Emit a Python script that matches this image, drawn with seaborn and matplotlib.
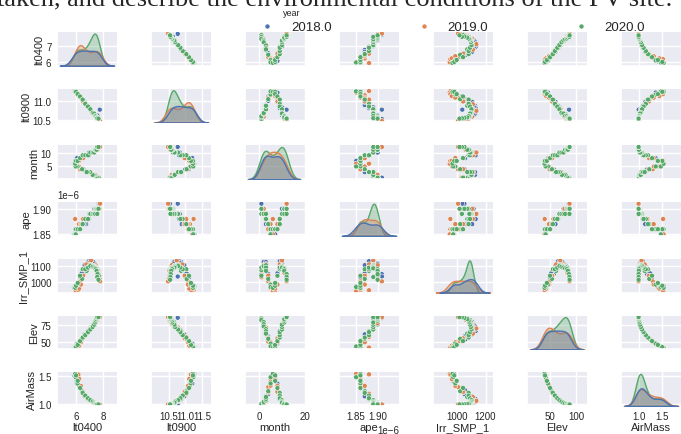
import numpy as np
import pandas as pd
import seaborn as sns
import matplotlib.pyplot as plt

# ---- measurements, one list per variable and year ----
month_2018 = [1, 1, 2, 2, 3, 3, 4, 4, 5, 6, 6, 7, 8, 8, 9, 9, 10, 10, 11, 12]
lt0400_2018 = [7.66, 7.60, 7.44, 7.26, 6.88, 6.74, 6.54, 6.32, 6.06, 5.87, 5.93, 5.96,
               6.08, 6.42, 6.63, 6.94, 6.97, 7.34, 7.56, 7.73]
lt0900_2018 = [10.53, 10.52, 10.61, 10.66, 10.87, 10.89, 11.00, 11.11, 11.19, 11.26, 11.27,
               11.23, 11.21, 11.04, 10.97, 10.81, 10.83, 10.63, 10.62, 10.77]
ape_2018 = [1.91, 1.90, 1.90, 1.89, 1.88, 1.87, 1.87, 1.86, 1.86, 1.85, 1.85, 1.85,
            1.86, 1.87, 1.87, 1.88, 1.89, 1.90, 1.90, 1.91]
irr_2018 = [1050, 1075, 1105, 1125, 1125, 1080, 1050, 1030, 970, 968, 975, 973,
            985, 1055, 1105, 1130, 1120, 1115, 1080, 1035]
elev_2018 = [85.7, 82.3, 80.0, 73.4, 66.2, 61.0, 57.9, 51.0, 45.2, 41.5, 40.6, 42.5,
             47.1, 53.2, 61.0, 66.1, 68.8, 76.2, 82.6, 86.4]
airmass_2018 = [1.003, 1.009, 1.015, 1.044, 1.091, 1.143, 1.181, 1.287, 1.410, 1.509, 1.537,
                1.480, 1.366, 1.248, 1.143, 1.092, 1.073, 1.031, 1.009, 1.002]

month_2019 = [1, 1, 2, 3, 3, 4, 4, 5, 5, 6, 6, 7, 7, 8, 8, 9, 9, 10, 10, 11, 12, 12]
lt0400_2019 = [7.68, 7.62, 7.42, 7.07, 6.84, 6.43, 6.30, 6.22, 6.12, 5.94, 6.00, 6.18,
               6.23, 6.36, 6.52, 6.52, 6.76, 7.10, 7.32, 7.57, 7.72, 7.75]
lt0900_2019 = [10.53, 10.52, 10.59, 10.78, 10.85, 11.05, 11.08, 11.14, 11.19, 11.25, 11.21,
               11.17, 11.12, 11.08, 10.98, 11.03, 10.91, 10.74, 10.68, 10.54, 10.50, 10.48]
ape_2019 = [1.90, 1.90, 1.90, 1.89, 1.88, 1.87, 1.86, 1.87, 1.86, 1.88, 1.85, 1.86,
            1.86, 1.87, 1.87, 1.88, 1.88, 1.89, 1.89, 1.90, 1.90, 1.91]
irr_2019 = [1030, 1070, 1105, 1112, 1092, 1040, 1005, 985, 962, 950, 945, 950,
            960, 985, 1040, 1080, 1110, 1135, 1100, 1058, 1020, 1005]
elev_2019 = [86.8, 84.2, 77.9, 71.5, 63.4, 55.5, 50.0, 48.8, 43.7, 40.9, 40.6, 41.0,
             43.7, 49.0, 54.9, 57.2, 62.2, 70.0, 77.2, 83.4, 86.8, 87.3]
airmass_2019 = [1.001, 1.005, 1.023, 1.055, 1.118, 1.213, 1.305, 1.329, 1.447, 1.527, 1.537,
                1.524, 1.447, 1.325, 1.222, 1.189, 1.131, 1.064, 1.026, 1.007, 1.001, 1.000]

month_2020 = [1, 1, 1, 2, 2, 2, 3, 3, 3, 4, 5, 5, 6, 7, 7, 8, 9, 9, 9, 10, 10, 10,
              11, 11, 11, 12, 12, 12]
lt0400_2020 = [7.65, 7.53, 7.42, 7.35, 7.28, 7.21, 7.02, 6.86, 6.78, 6.45, 6.12, 5.98,
               5.95, 6.01, 6.13, 6.30, 6.49, 6.68, 6.88, 7.05, 7.22, 7.33, 7.40, 7.44,
               7.50, 7.57, 7.55, 7.64]
lt0900_2020 = [10.53, 10.57, 10.60, 10.66, 10.68, 10.68, 10.78, 10.87, 10.87, 11.04, 11.16,
               11.24, 11.23, 11.23, 11.17, 11.11, 11.03, 10.92, 10.85, 10.78, 10.69, 10.67,
               10.61, 10.60, 10.57, 10.56, 10.55, 10.54]
ape_2020 = [1.90, 1.90, 1.89, 1.89, 1.89, 1.89, 1.89, 1.88, 1.88, 1.87, 1.86, 1.85,
            1.86, 1.86, 1.86, 1.86, 1.87, 1.88, 1.88, 1.89, 1.89, 1.89, 1.89, 1.90,
            1.90, 1.90, 1.89, 1.90]
irr_2020 = [1040, 1075, 1090, 1095, 1095, 1100, 1105, 1090, 1070, 1020, 985, 970,
            965, 978, 995, 1040, 1080, 1080, 1090, 1100, 1095, 1090, 1085, 1080,
            1070, 1050, 1032, 1015]
elev_2020 = [86.5, 85.1, 82.9, 79.7, 76.5, 73.0, 69.0, 65.8, 62.2, 54.3, 47.0, 42.6,
             40.6, 41.5, 45.0, 50.9, 56.2, 59.9, 64.5, 68.4, 72.2, 75.8, 79.1, 82.0,
             84.3, 86.1, 87.2, 87.4]
airmass_2020 = [1.002, 1.003, 1.008, 1.016, 1.029, 1.046, 1.071, 1.097, 1.131, 1.231, 1.367,
                1.477, 1.537, 1.509, 1.414, 1.289, 1.203, 1.156, 1.108, 1.075, 1.050, 1.032,
                1.018, 1.010, 1.006, 1.002, 1.001, 1.001]

years = [2018.0, 2019.0, 2020.0]

# tick positions on the bottom row, one list per column
xticks_bottom = [[6, 8], [10.5, 11.0, 11.5], [0, 20], [1.85e-6, 1.90e-6],
                 [1000, 1200], [50, 100], [1.0, 1.5]]

df = pd.DataFrame({
    "lt0400": lt0400_2018 + lt0400_2019 + lt0400_2020,
    "lt0900": lt0900_2018 + lt0900_2019 + lt0900_2020,
    "month": month_2018 + month_2019 + month_2020,
    "ape": np.array(ape_2018 + ape_2019 + ape_2020) * 1e-6,
    "Irr_SMP_1": irr_2018 + irr_2019 + irr_2020,
    "Elev": elev_2018 + elev_2019 + elev_2020,
    "AirMass": airmass_2018 + airmass_2019 + airmass_2020,
    "year": [years[0]] * len(month_2018) + [years[1]] * len(month_2019)
            + [years[2]] * len(month_2020),
})

sns.set_theme(style="darkgrid", rc={
    "xtick.labelsize": 7, "ytick.labelsize": 7, "axes.labelsize": 8,
    "xtick.major.size": 0, "ytick.major.size": 0,
    "xtick.major.pad": 3.5, "ytick.major.pad": 4, "axes.labelpad": 1.0,
})
plt.rcParams["font.family"] = ["Liberation Sans", "DejaVu Sans"]

g = sns.pairplot(
    df, hue="year", palette="deep", height=1.0,
    plot_kws=dict(s=13, linewidth=0.4, edgecolor="white"),
    diag_kws=dict(linewidth=1.0, alpha=0.3),
)
fig = g.figure
fig.set_size_inches(6.81, 4.35)
fig.subplots_adjust(left=57 / 681, right=1.0, bottom=1 - 407 / 435, top=1 - 33 / 435,
                    wspace=0.57, hspace=0.68)

for ax, ticks in zip(g.axes[-1], xticks_bottom):
    ax.set_xticks(ticks)

sns.move_legend(
    g, "center left", bbox_to_anchor=(254 / 681, 1 - 28 / 435), ncol=3, title="",
    frameon=False, fontsize=9.5, columnspacing=6, handletextpad=0.8,
    borderaxespad=0, borderpad=0,
)
fig.text(292 / 681, 1 - 14 / 435, "year", ha="center", va="center", fontsize=6.5)

# running text of the surrounding page, cut by the top edge
fig.text(-0.004, 1 - 6 / 435,
         "taken, and describe the environmental conditions of the PV site.",
         family=["Liberation Serif", "DejaVu Serif"], fontsize=19, va="baseline")

fig.savefig("out.png", dpi=100)
